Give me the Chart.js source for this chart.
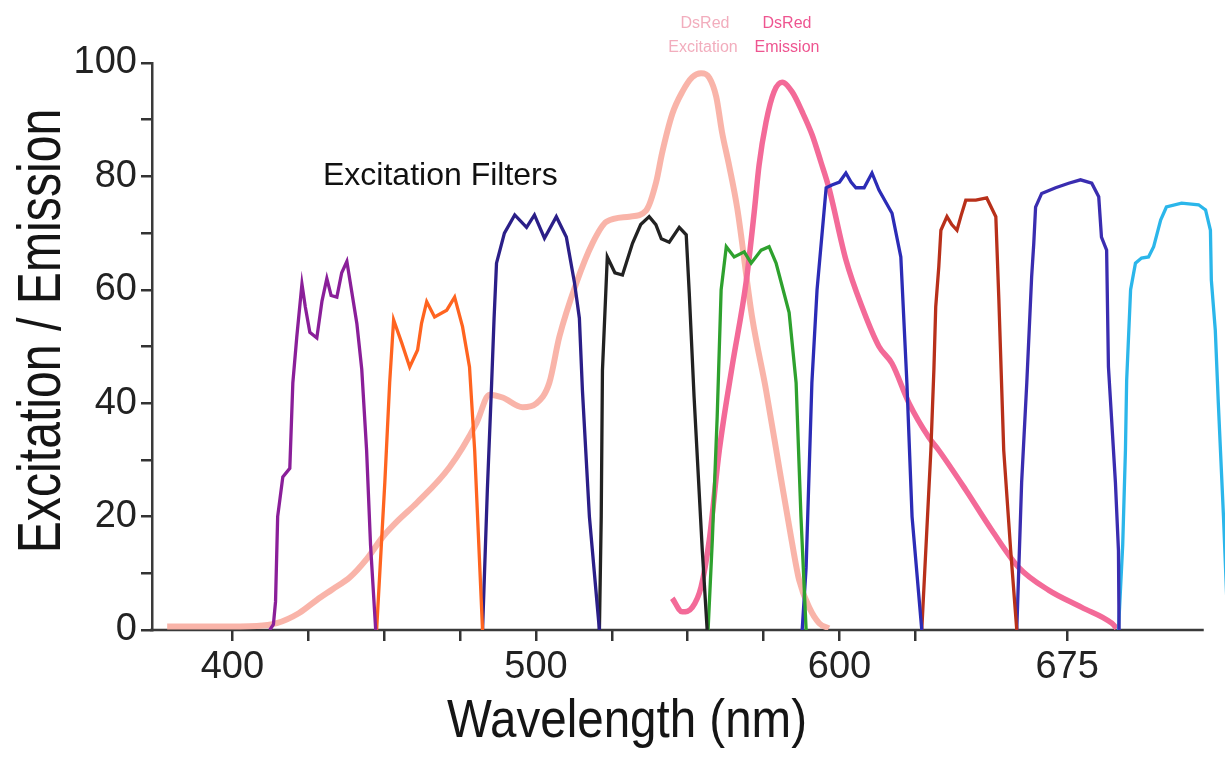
<!DOCTYPE html>
<html>
<head>
<meta charset="utf-8">
<script src="https://cdn.jsdelivr.net/npm/chart.js@4.4.0/dist/chart.umd.min.js"></script>
<style>
html,body{margin:0;padding:0;background:#ffffff;}
canvas{display:block;}
</style>
</head>
<body>
<canvas id="chart" width="1225" height="758"></canvas>
<script>
// ---- axis ticks ----
const xTickValues = [400, 425, 450, 475, 500, 525, 550, 575, 600, 625, 675];
const xLabeledTicks = [400, 500, 600, 675];
const xAxisLineEnd = 720;
const yLabeledStep = 20;

// ---- excitation filter transmission curves: [wavelength nm, value] ----
const filterViolet = [[412.3,0],[413.5,1],[414.2,5],[414.9,20],[416.6,27],[418.9,28.5],[419.9,43.6],[421.2,51.7],[422.9,61],[424,57],[425.5,52.5],[427.8,51.5],[429.5,58],[431.1,62],[432.5,59],[434.4,58.7],[436,63],[437.7,65],[439.2,60],[441,54],[442.6,46],[444.2,31.7],[445.5,15],[447.2,0]];
const filterOrange = [[447.5,0],[450.2,26],[451.8,43.6],[453.1,54.7],[455.8,50.6],[458.4,46.4],[461,49.4],[462.3,54.1],[464,57.9],[466.6,55.2],[470.6,56.4],[473.2,58.7],[475.8,53.5],[478.1,46.4],[479.8,31.7],[482.4,0]];
const filterIndigo = [[482.4,0],[484,25],[485.4,43.6],[486.2,55],[487,64.7],[489.6,70],[493,73.2],[496.9,71],[499.5,73.2],[502.8,69.1],[506.7,72.9],[510,69.3],[512.7,61.2],[514.3,55],[515.3,42.3],[517.6,20],[520.9,0]];
const filterBlack = [[520.9,0],[521.5,20],[521.9,45.8],[523.5,65.8],[526,63],[528.5,62.6],[531.8,68.2],[534.5,71.5],[537.3,72.9],[539.5,71.5],[541.3,69],[543.9,68.4],[547.2,71],[549.5,69.7],[550.5,59.4],[552.1,41],[554.8,14],[556.4,0]];
const filterGreen = [[556.7,0],[558.1,15.9],[559.7,37.6],[561,60],[562.7,67.6],[565.3,65.8],[568.6,66.7],[570.9,64.7],[574.2,67],[576.8,67.6],[579.1,64.7],[583.4,56],[585.7,43.6],[587.3,20],[589,0]];
const filterBlue = [[587.7,0],[589,11],[590.9,43.6],[592.6,60],[595.6,78],[597.5,78.5],[600,79],[602.1,80.6],[603.8,79],[605.4,78],[608.1,78],[610.7,80.6],[613,77.6],[617.3,73.5],[620.2,65.8],[622.2,43.6],[623.9,20],[627.1,0]];
const filterRed = [[627.1,0],[630.1,31.7],[631.1,46],[631.7,57],[632.7,64],[633.4,70.5],[635.4,72.9],[637,71.5],[638.7,70.5],[640,73],[641.6,75.8],[644.9,75.8],[648.5,76.2],[651.5,72.9],[652.5,58.2],[654.1,31.7],[656.4,14],[658.4,0]];
const filterRoyal = [[658.4,0],[660,26],[661.7,43.6],[663.3,62.3],[664,68.2],[664.6,74.6],[666.6,77],[671.2,78],[675.5,78.8],[679.4,79.4],[683.1,78.8],[685.4,76.4],[686.3,69.3],[688,67],[688.6,46.4],[690.9,26],[691.9,14],[692.1,0]];
const filterCyan = [[691.9,0],[693.3,15],[694.2,31.7],[694.6,44],[695.9,60],[697.5,64.7],[699.5,65.6],[701.8,65.8],[703.5,67.6],[705.8,72.3],[707.7,74.6],[712.7,75.3],[718.3,75],[720.6,74.1],[722.2,70.5],[722.5,61.7],[723.8,52.9],[724.8,40],[726.5,20],[728,0]];

// ---- DsRed spectra ----
const dsredExcitation = [[378.5,0.6],[395,0.6],[408,0.7],[414.6,1.2],[422,3],[427.8,5.3],[433,7.2],[438.7,9.3],[444.2,12.5],[449.5,16.4],[455.1,19.6],[460.7,22.4],[471.5,28.7],[480.4,36.5],[484.7,41.5],[489,41],[495.6,39.3],[500.2,40],[504.4,43.6],[507.7,51.7],[513.3,61.2],[518.6,68.2],[523.2,72],[530.8,72.9],[536.3,74],[539.6,79],[541.5,84],[544.9,91],[548.2,94.9],[551.5,97.5],[554.4,98.2],[557.1,97.4],[559.4,94],[561.3,87.8],[563.6,82],[566.3,74.4],[571.2,55.2],[575.8,42.3],[580.1,28.7],[584,16.5],[586.7,8.8],[590,4],[593.3,1.2],[596.5,0.3]];
const dsredEmission = [[544.9,5.6],[548.2,3.2],[551.5,4],[554.4,7.6],[557.1,15.9],[560.4,31.7],[564.6,46.4],[569.2,61.2],[571.9,73.7],[573.5,82],[575.8,89.6],[578.4,94.9],[581.1,96.6],[584.4,94.9],[587.7,91.4],[591,87.3],[593.9,82.5],[596.5,78],[602.1,65.3],[607.4,57],[613,50],[617.3,47],[622.9,40],[629.4,34],[632.7,31.7],[641.6,24.7],[650.2,17.6],[659.1,11],[669,7],[679.8,4],[689.7,1.2],[691.3,0.3]];

const toXY = arr => arr.map(p => ({x: p[0], y: p[1]}));
const CLIP = {left: 0, top: 60, right: 0, bottom: 0};

function filterSet(data, color) {
  return {data: toXY(data), borderColor: color, borderWidth: 3.3, pointRadius: 0, tension: 0, fill: false, clip: CLIP};
}
function spectrumSet(data, color, width) {
  return {data: toXY(data), borderColor: color, borderWidth: width, pointRadius: 0, cubicInterpolationMode: 'monotone', fill: false, clip: CLIP};
}

const datasets = [
  filterSet(filterViolet, '#8a1f99'),
  filterSet(filterOrange, '#ff6420'),
  filterSet(filterIndigo, '#2b1f88'),
  filterSet(filterBlack, '#222222'),
  filterSet(filterGreen, '#2ea12e'),
  filterSet(filterBlue, '#2c2cb6'),
  filterSet(filterRed, '#b8301a'),
  filterSet(filterRoyal, '#3a2db0'),
  filterSet(filterCyan, '#2bb6ea'),
  spectrumSet(dsredEmission, '#f36a98', 5.5),
  spectrumSet(dsredExcitation, 'rgba(249,176,164,0.95)', 6)
];

const axisLine = {
  id: 'axisLine',
  beforeDatasetsDraw(chart) {
    const c = chart.ctx, xs = chart.scales.x, ca = chart.chartArea;
    c.save();
    c.strokeStyle = '#3a3a3a';
    c.lineWidth = 2.5;
    c.beginPath();
    c.moveTo(ca.left - 2, ca.bottom);
    c.lineTo(xs.getPixelForValue(xAxisLineEnd), ca.bottom);
    c.stroke();
    c.restore();
  }
};

const annotations = {
  id: 'annotations',
  afterDraw(chart) {
    const c = chart.ctx;
    c.save();
    c.fillStyle = '#111111';
    c.font = '32px "Liberation Sans", Arial, sans-serif';
    c.textAlign = 'left';
    c.textBaseline = 'alphabetic';
    c.fillText('Excitation Filters', 323, 185);

    c.font = '16px "Liberation Sans", Arial, sans-serif';
    c.textAlign = 'center';
    c.fillStyle = '#f2adbd';
    c.fillText('DsRed', 705, 28);
    c.fillText('Excitation', 703, 52);
    c.fillStyle = '#ee5590';
    c.fillText('DsRed', 787, 28);
    c.fillText('Emission', 787, 52);

    // axis titles
    c.fillStyle = '#151515';
    c.save();
    c.translate(627, 737);
    c.scale(0.88, 1);
    c.font = '54px "Liberation Sans", Arial, sans-serif';
    c.textAlign = 'center';
    c.fillText('Wavelength (nm)', 0, 0);
    c.restore();

    c.save();
    c.translate(60, 331);
    c.rotate(-Math.PI / 2);
    c.scale(0.79, 1);
    c.font = '61px "Liberation Sans", Arial, sans-serif';
    c.textAlign = 'center';
    c.fillText('Excitation / Emission', 0, 0);
    c.restore();
    c.restore();
  }
};

const tickFont = {family: '"Liberation Sans", Arial, sans-serif', size: 38};

new Chart(document.getElementById('chart'), {
  type: 'line',
  data: {datasets},
  plugins: [axisLine, annotations],
  options: {
    responsive: false,
    devicePixelRatio: 1,
    animation: false,
    layout: {padding: {top: 63, right: 0, bottom: 0, left: 0}},
    plugins: {legend: {display: false}, tooltip: {enabled: false}, title: {display: false}},
    scales: {
      x: {
        type: 'linear',
        min: 373.5,
        max: 727,
        afterBuildTicks: scale => { scale.ticks = xTickValues.map(v => ({value: v})); },
        afterFit: scale => { scale.height = 128; },
        ticks: {
          autoSkip: false, maxRotation: 0, padding: 4, color: '#222',
          font: tickFont,
          callback: v => xLabeledTicks.includes(v) ? String(v) : ''
        },
        grid: {drawOnChartArea: false, drawTicks: true, tickLength: 11, tickColor: '#333', tickWidth: 2.5, lineWidth: 2.5},
        border: {display: false}
      },
      y: {
        type: 'linear',
        min: 0,
        max: 100,
        afterFit: scale => { scale.width = 152; },
        ticks: {
          stepSize: 10, autoSkip: false, padding: 4, color: '#222',
          font: tickFont,
          callback: v => (v % yLabeledStep === 0 ? String(v) : '')
        },
        grid: {drawOnChartArea: false, drawTicks: true, tickLength: 11, tickColor: '#333', tickWidth: 2.5, lineWidth: 2.5},
        border: {display: true, color: '#3a3a3a', width: 2.5}
      }
    }
  }
});
</script>
</body>
</html>
